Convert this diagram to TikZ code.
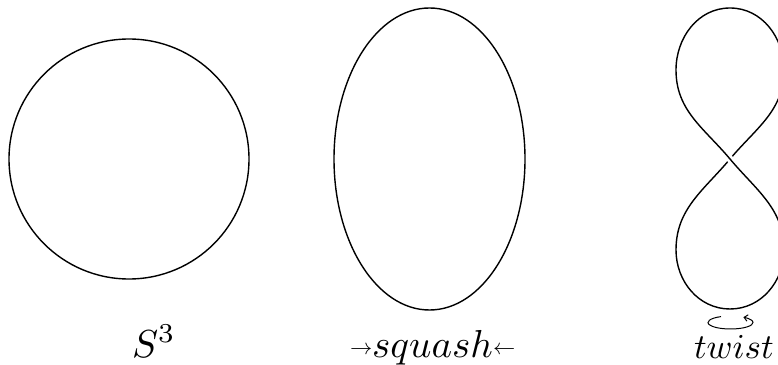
\documentclass[tikz,border=0pt]{standalone}
\usepackage{graphicx}
\usetikzlibrary{arrows.meta}
\tikzset{
  curve/.style={line width=1.4pt, line join=round},
  lbl/.style={inner sep=0pt, outer sep=0pt, anchor=base west, scale=3.9},
}
\begin{document}
\begin{tikzpicture}[x=1pt,y=1pt]
\useasboundingbox (0,0) rectangle (778,364);
% sphere
\draw[curve] (129,205) circle [radius=120pt];
% squashed
\draw[curve] (429.5,205) ellipse [x radius=95.5pt, y radius=151pt];
% figure eight
\coordinate (C) at (730,205);
\coordinate (UL) at (676,294);
\coordinate (UT) at (730,356);
\coordinate (UR) at (784,294);
\coordinate (LL) at (676,114);
\coordinate (LB) at (730,55);
\coordinate (LR) at (784,114);
\draw[curve] (UL) to[out=90,in=180] (UT) to[out=0,in=90] (UR)
  to[out=-90,in=50] (C) to[out=230,in=90] (LL)
  to[out=-90,in=180] (LB) to[out=0,in=-90] (LR);
\draw[curve, preaction={draw=white, line width=7pt}] (LR) to[out=90,in=-50] (C) to[out=130,in=-90] (UL);
% twist arrow
\coordinate (T) at (730.5,41.5);
\draw[line width=1pt, -{Straight Barb[length=3.5pt,width=6.5pt]}] (T) ++(115:22.5pt and 6.5pt) arc[start angle=115, end angle=415, x radius=22.5pt, y radius=6.5pt];
% labels
\node[lbl] (s3) at (132,7) {$S^3$};
\node[lbl] (squash) at (350,7) {\raisebox{0.6pt}{\scalebox{0.57}{$\rightarrow$}}$squash$\raisebox{0.6pt}{\scalebox{0.57}{$\leftarrow$}}};
\node[lbl, scale=3.5/3.9] (twist) at (694,6) {$twist$};
\end{tikzpicture}
\end{document}
